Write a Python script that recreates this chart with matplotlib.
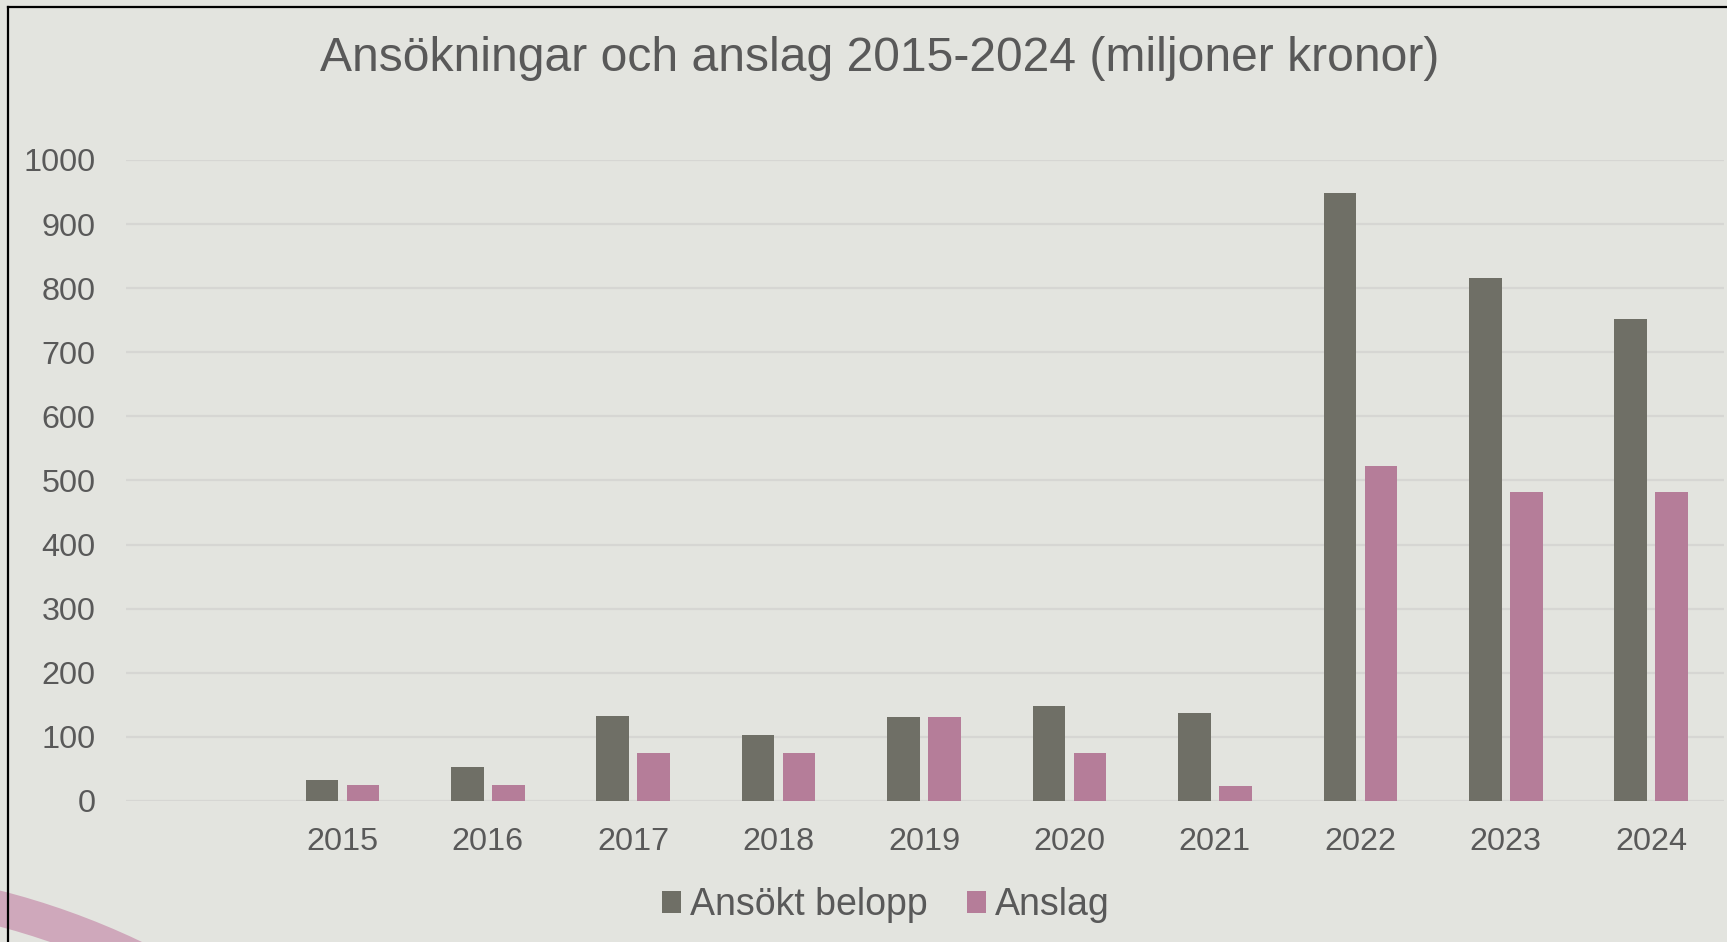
import numpy as np
import matplotlib
matplotlib.use("Agg")
import matplotlib.pyplot as plt
from matplotlib.patches import Wedge
from matplotlib.lines import Line2D

# Data (miljoner kronor)
years = ["2015", "2016", "2017", "2018", "2019", "2020", "2021", "2022", "2023", "2024"]
ansokt_belopp = [33, 53, 132, 103, 131, 148, 137, 948, 816, 752]
anslag = [25, 25, 75, 75, 131, 75, 24, 522, 482, 482]

bg = "#E3E4DF"
gray = "#6F6F66"
pink = "#B57D99"
text_col = "#595959"

plt.rcParams["font.family"] = ["Liberation Sans", "DejaVu Sans"]

fig = plt.figure(figsize=(17.27, 9.42), dpi=100, facecolor=bg)
ax = fig.add_axes([0.0728, 0.1497, 0.9254, 0.6805])
ax.set_facecolor(bg)

# an empty category slot sits before 2015 in the original
x = np.arange(1, len(years) + 1)
w = 0.224
off = 0.141
ax.bar(x - off, ansokt_belopp, width=w, color=gray, label="Ansökt belopp", zorder=3)
ax.bar(x + off, anslag, width=w, color=pink, label="Anslag", zorder=3)

ax.set_xlim(-0.49, len(years) + 0.5)
ax.set_ylim(0, 1000)
ax.set_yticks(range(0, 1001, 100))
ax.set_xticks(x)
ax.set_xticklabels(years)
ax.tick_params(axis="both", length=0, labelsize=23.3, colors=text_col)
ax.tick_params(axis="y", pad=21.6)
ax.tick_params(axis="x", pad=18.4)
ax.grid(axis="y", color="#D6D6D3", linewidth=1.6, zorder=0)
for s in ax.spines.values():
    s.set_visible(False)

fig.text(0.5096, 0.938, "Ansökningar och anslag 2015-2024 (miljoner kronor)",
         ha="center", va="center", fontsize=34.6, color=text_col)

leg = fig.legend(loc="center", bbox_to_anchor=(0.513, 0.039), ncol=2, frameon=False,
                 fontsize=27, handlelength=0.5, handleheight=0.5, handletextpad=0.25,
                 columnspacing=1.05)
for t in leg.get_texts():
    t.set_color(text_col)

# decorative pink arc in the lower left corner
arc = Wedge((-1.88, -6.89), 7.64, 0, 180, width=0.35, transform=fig.dpi_scale_trans,
            facecolor="#CFA8BB", edgecolor="none", zorder=0)
fig.add_artist(arc)

# frame lines (left and top)
fig.add_artist(Line2D([7.5 / 1727, 7.5 / 1727], [0, 1 - 6.5 / 942], color="black",
                      linewidth=1.6, transform=fig.transFigure))
fig.add_artist(Line2D([7.5 / 1727, 1], [1 - 6.5 / 942, 1 - 6.5 / 942], color="black",
                      linewidth=1.6, transform=fig.transFigure))

fig.savefig("out.png", dpi=100, facecolor=bg)
